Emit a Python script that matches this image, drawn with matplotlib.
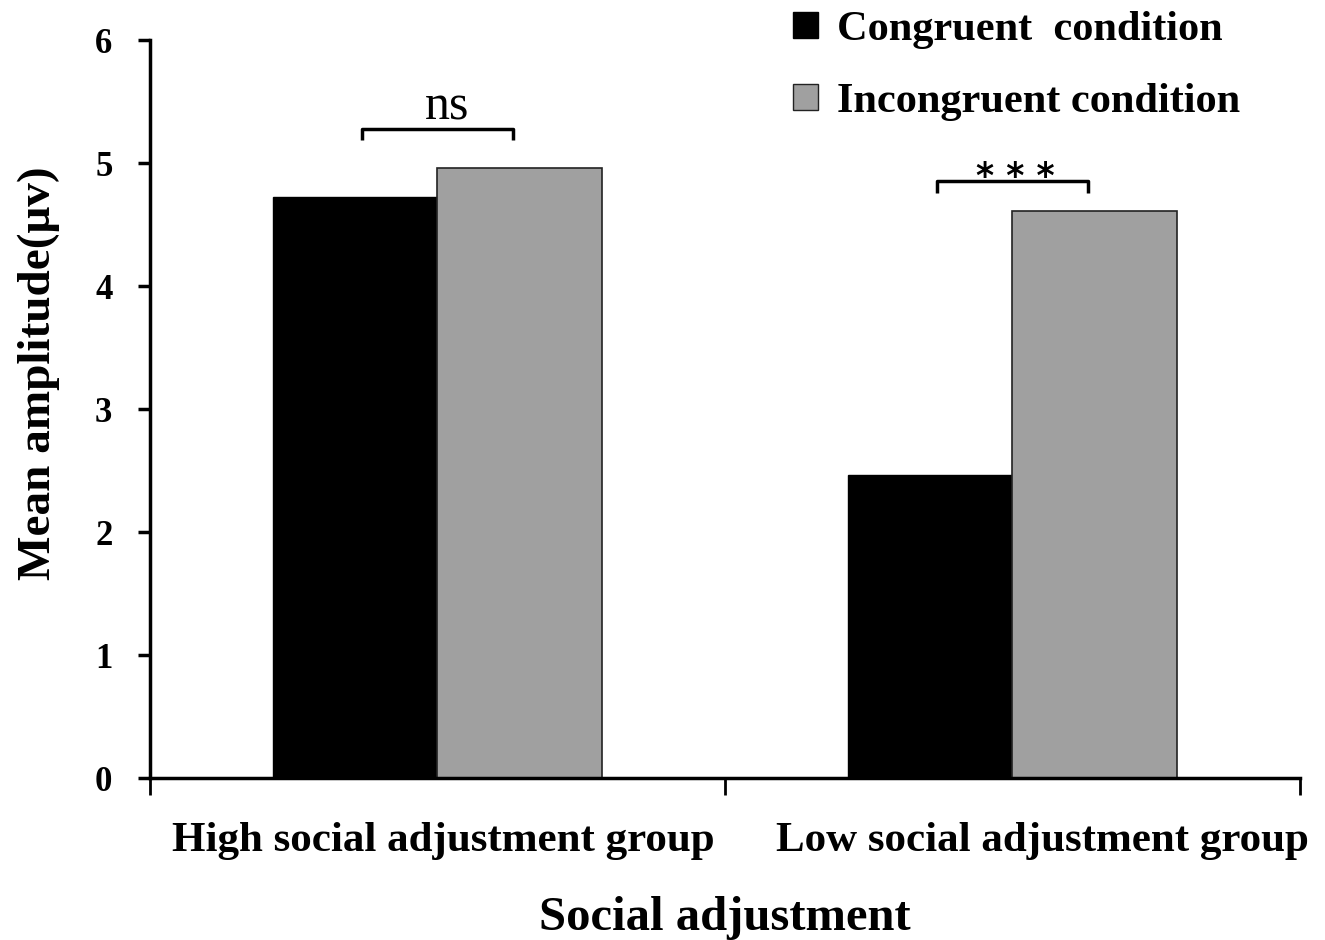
import matplotlib.pyplot as plt
import numpy as np
from matplotlib.patches import Patch

groups = ['High social adjustment group', 'Low social adjustment group']
congruent = [4.72, 2.46]
incongruent = [4.96, 4.61]
sig_labels = ['ns', '* * *']
bracket_tops = [5.28, 4.85]

plt.rcParams['font.family'] = ['Liberation Serif', 'DejaVu Serif']

fig = plt.figure(figsize=(13.25, 9.4), dpi=100)
ax = fig.add_axes([0.1132, 0.1723, 0.8679, 0.7851])

x = np.arange(len(groups))
w = 0.286
ax.bar(x - w / 2, congruent, w, color='black', edgecolor='black', linewidth=1)
ax.bar(x + w / 2, incongruent, w, color='#a0a0a0', edgecolor='#222222', linewidth=1.2)

# significance brackets
for i in range(len(groups)):
    x0 = x[i] - 0.131
    x1 = x[i] + 0.132
    top = bracket_tops[i]
    ax.plot([x0, x0, x1, x1], [top - 0.09, top, top, top - 0.09], color='black', lw=2.5,
            solid_capstyle='butt', clip_on=False)
    if sig_labels[i] == 'ns':
        ax.text(x[i] + 0.017, top + 0.07, sig_labels[i], ha='center', va='baseline', fontsize=36)
    else:
        ax.text(x[i] + 0.005, top - 0.10, sig_labels[i], ha='center', va='bottom', fontsize=25,
                fontweight='bold', family='DejaVu Sans')

ax.set_xlim(-0.5, 1.5)
ax.set_ylim(0, 6)
ax.spines['top'].set_visible(False)
ax.spines['right'].set_visible(False)
ax.spines['left'].set_linewidth(2.5)
ax.spines['bottom'].set_linewidth(2.5)

ax.set_yticks(range(0, 7))
ax.tick_params(axis='y', direction='out', length=9, width=2.5, labelsize=25, pad=18)
for lab in ax.get_yticklabels():
    lab.set_fontweight('bold')

# group labels sit a little right of the category centres in the original
ax.set_xticks(x + np.array([0.01, 0.052]))
ax.set_xticklabels(groups, fontsize=31, fontweight='bold')
ax.tick_params(axis='x', which='major', length=0, pad=31.5)
ax.set_xticks([-0.5, 0.5, 1.5], minor=True)
ax.tick_params(axis='x', which='minor', direction='out', length=12, width=2)

ax.set_ylabel('Mean amplitude(μv)', fontsize=34, fontweight='bold')
ax.yaxis.set_label_coords(-0.078, 0.549)
ax.set_xlabel('Social adjustment', fontsize=35, fontweight='bold', labelpad=26)

handles = [Patch(facecolor='black', edgecolor='black'),
           Patch(facecolor='#a0a0a0', edgecolor='#222222')]
fig.legend(handles, ['Congruent  condition', 'Incongruent condition'],
           loc='upper left', bbox_to_anchor=(0.570, 1.0285), frameon=False,
           prop={'size': 30.5, 'weight': 'bold'}, handlelength=0.57, handleheight=0.57,
           handletextpad=0.45, labelspacing=0.8)

fig.savefig('out.png', dpi=100)
